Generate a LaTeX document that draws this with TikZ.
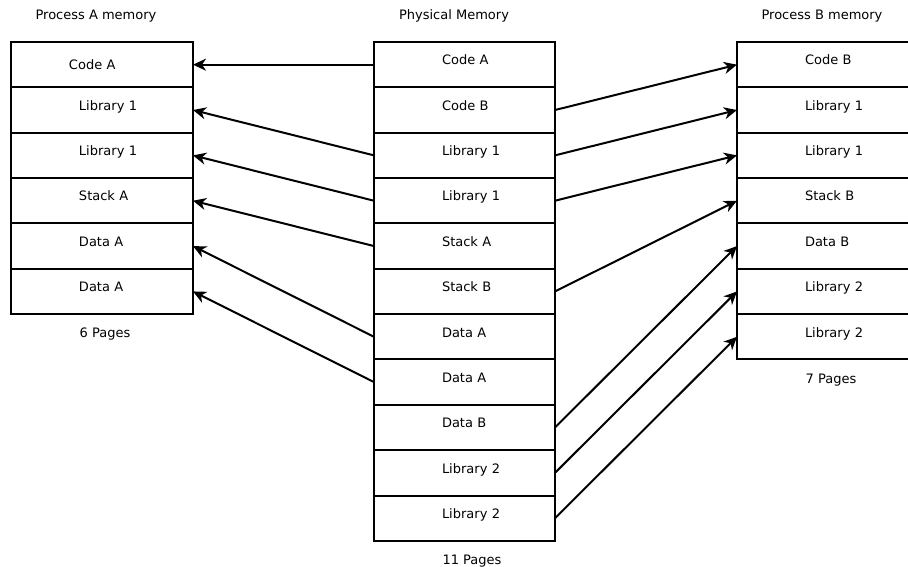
\documentclass[tikz,border=0pt]{standalone}
\usepackage{fontspec}
\setmainfont{DejaVu Sans}
\usetikzlibrary{arrows.meta,positioning}

\tikzset{
  page/.style={draw, line width=2pt, outer sep=0pt, inner xsep=0pt,
    minimum width=182pt, minimum height=45.35pt, text width=182pt, align=left,
    text height=10pt, text depth=9.5pt,
    execute at begin node={\hspace*{#1}}},
  page/.default=68pt,
  map/.style={-{Stealth[length=13pt,width=12pt,inset=4pt]}, line width=2pt},
  caption/.style={anchor=base},
}

\begin{document}
\begin{tikzpicture}[x=1pt, y=-1pt, font=\fontsize{13pt}{15pt}\selectfont]
  \clip (0,0) rectangle (908,567);

  % process A
  \node[page=58pt, text depth=0pt] (procA1) at (102, {42+45.35*0.5}) {Code A};
  \foreach \name [count=\i from 2] in {Library 1, Library 1, Stack A, Data A, Data A}
    \node[page] (procA\i) at (102, {42+45.35*(\i-0.5)}) {\name};

  % physical memory
  \foreach \name [count=\i] in {Code A, Code B, Library 1, Library 1, Stack A, Stack B,
      Data A, Data A, Data B, Library 2, Library 2}
    \node[page, minimum width=181pt, text width=181pt] (phys\i) at (464.5, {42+45.35*(\i-0.5)}) {\name};

  % process B
  \foreach \name [count=\i] in {Code B, Library 1, Library 1, Stack B, Data B, Library 2, Library 2}
    \node[page] (procB\i) at (828, {42+45.35*(\i-0.5)}) {\name};

  \node[caption] (titleA) at (96,20) {Process A memory};
  \node[caption] (titleP) at (454,20) {Physical Memory};
  \node[caption] (titleB) at (822,20) {Process B memory};
  \node[caption] (pagesA) at (105,337) {6 Pages};
  \node[caption] (pagesP) at (472,564) {11 Pages};
  \node[caption] (pagesB) at (831,383) {7 Pages};

  % mappings
  \foreach \p/\a in {1/1, 3/2, 4/3, 5/4, 7/5, 8/6}
    \draw[map] (phys\p.west) -- (procA\a.east);
  \foreach \p/\b in {2/1, 3/2, 4/3, 6/4, 9/5, 10/6, 11/7}
    \draw[map] (phys\p.east) -- (procB\b.west);
\end{tikzpicture}
\end{document}
